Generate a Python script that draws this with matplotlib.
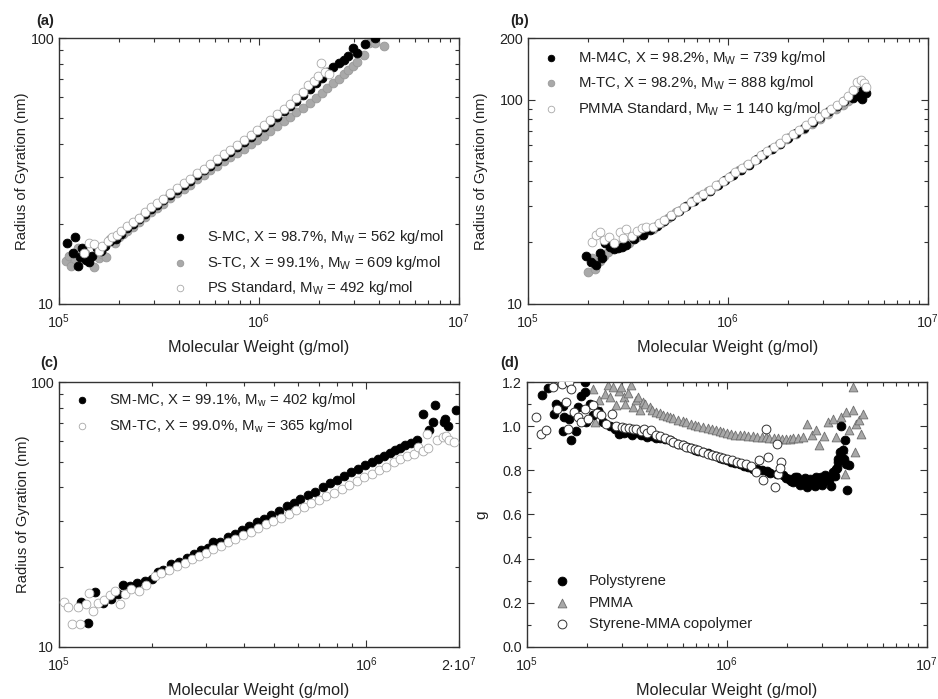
import matplotlib
matplotlib.use("Agg")
import matplotlib.pyplot as plt
from matplotlib.ticker import LogLocator, NullFormatter, FixedLocator, MultipleLocator

plt.rcParams["font.family"] = ["Liberation Sans", "DejaVu Sans"]
plt.rcParams["mathtext.fontset"] = "custom"
plt.rcParams["mathtext.rm"] = "Liberation Sans"
plt.rcParams["mathtext.it"] = "Liberation Sans:italic"
plt.rcParams["mathtext.bf"] = "Liberation Sans:bold"
plt.rcParams["text.color"] = "#222222"
plt.rcParams["axes.labelcolor"] = "#222222"

# ---- panel (a): styrene samples ----
a_smc_mw = [1.10e5, 1.17e5, 1.20e5, 1.24e5, 1.28e5, 1.31e5, 1.36e5, 1.41e5, 1.47e5, 1.55e5,
            1.62e5, 1.70e5, 1.80e5, 1.92e5, 2.05e5,
            2.2e5, 2.35e5, 2.5e5, 2.7e5, 2.9e5, 3.1e5, 3.3e5, 3.6e5, 3.9e5, 4.2e5, 4.5e5,
            4.9e5, 5.3e5, 5.7e5, 6.2e5, 6.7e5, 7.2e5, 7.8e5, 8.4e5, 9.1e5, 9.8e5,
            1.06e6, 1.14e6, 1.23e6, 1.33e6, 1.43e6, 1.54e6, 1.66e6, 1.79e6, 1.92e6, 2.06e6,
            2.2e6, 2.35e6, 2.5e6, 2.65e6, 2.8e6, 2.95e6, 3.1e6, 3.4e6, 3.8e6]
a_smc_rg = [16.9, 15.5, 17.8, 13.9, 15.0, 16.2, 14.6, 14.4, 15.2, 16.2,
            15.8, 16.5, 17.2, 17.6, 18.3,
            19.3, 20.0, 20.8, 21.8, 22.7, 23.6, 24.5, 25.7, 26.9, 28.0, 29.1,
            30.5, 31.8, 33.1, 34.6, 36.0, 37.4, 39.0, 40.6, 42.4, 44.2,
            46.2, 48.3, 50.6, 53.0, 55.5, 58.2, 61.0, 64.2, 67.5, 71.0,
            74.5, 78.0, 80.5, 83.0, 85.5, 92.0, 88.0, 95.0, 100.0]
a_stc_mw = [1.08e5, 1.12e5, 1.15e5, 1.20e5, 1.25e5, 1.30e5, 1.35e5, 1.42e5, 1.50e5, 1.58e5,
            1.65e5, 1.72e5, 1.80e5, 1.90e5, 2.00e5, 2.1e5,
            2.2e5, 2.35e5, 2.5e5, 2.7e5, 2.9e5, 3.1e5, 3.3e5, 3.6e5, 3.9e5, 4.2e5, 4.5e5,
            4.9e5, 5.3e5, 5.7e5, 6.2e5, 6.7e5, 7.2e5, 7.8e5, 8.4e5, 9.1e5, 9.8e5,
            1.06e6, 1.14e6, 1.23e6, 1.33e6, 1.43e6, 1.54e6, 1.66e6, 1.79e6, 1.92e6, 2.06e6,
            2.2e6, 2.35e6, 2.5e6, 2.65e6, 2.8e6, 2.95e6, 3.1e6,
            3.35e6, 3.55e6, 3.8e6, 4.2e6]
a_stc_rg = [14.5, 15.2, 13.9, 14.8, 16.3, 14.8, 15.5, 14.8, 13.8, 14.9,
            15.4, 15.0, 17.5, 17.0, 17.8, 18.3,
            18.8, 19.5, 20.3, 21.2, 22.1, 23.0, 23.8, 25.0, 26.1, 27.1, 28.1,
            29.4, 30.6, 31.8, 33.1, 34.4, 35.6, 37.0, 38.4, 39.9, 41.4,
            43.0, 44.7, 46.6, 48.6, 50.5, 52.6, 54.8, 57.2, 59.6, 62.2,
            64.8, 67.5, 70.3, 73.0, 75.8, 78.5, 81.0,
            86.0, 95.5, 95.7, 93.0]
a_ps_mw = [1.33e5, 1.42e5, 1.50e5, 1.58e5, 1.65e5, 1.75e5, 1.85e5, 1.95e5,
           2.05e5, 2.2e5, 2.35e5, 2.5e5, 2.7e5, 2.9e5, 3.1e5, 3.3e5, 3.6e5, 3.9e5, 4.2e5,
           4.5e5, 4.9e5, 5.3e5, 5.7e5, 6.2e5, 6.7e5, 7.2e5, 7.8e5, 8.4e5, 9.1e5, 9.8e5,
           1.06e6, 1.14e6, 1.23e6, 1.33e6, 1.43e6, 1.54e6, 1.66e6, 1.76e6, 1.88e6, 1.98e6,
           2.05e6, 2.15e6, 2.25e6]
a_ps_rg = [15.5, 17.0, 16.8, 15.8, 16.5, 17.2, 17.8, 18.2,
           18.8, 19.6, 20.3, 21.1, 22.1, 23.1, 24.0, 24.9, 26.2, 27.4, 28.5,
           29.6, 31.0, 32.3, 33.6, 35.1, 36.6, 38.0, 39.7, 41.3, 43.2, 45.0,
           47.0, 49.2, 51.6, 54.2, 56.6, 59.5, 62.5, 66.5, 69.0, 72.0,
           80.5, 74.5, 73.0]

# ---- panel (b): MMA samples ----
b_m4c_mw = [1.94e5, 2.07e5, 2.2e5, 2.28e5, 2.35e5, 2.42e5, 2.56e5, 2.7e5, 2.82e5, 2.95e5,
            3.1e5, 3.4e5, 3.76e5, 4.06e5,
            4.4e5, 4.8e5, 5.2e5, 5.7e5, 6.2e5, 6.8e5, 7.4e5, 8.1e5, 8.9e5, 9.7e5,
            1.06e6, 1.16e6, 1.27e6, 1.39e6, 1.52e6, 1.66e6, 1.82e6, 2.0e6, 2.2e6, 2.4e6,
            2.65e6, 2.9e6, 3.2e6, 3.5e6, 3.8e6,
            4.2e6, 4.5e6, 4.7e6, 4.9e6, 4.75e6]
b_m4c_rg = [17.1, 16.1, 15.5, 17.7, 16.8, 19.8, 19.1, 18.5, 18.7, 18.9,
            19.5, 20.8, 21.8, 22.9,
            24.1, 25.5, 26.9, 28.6, 30.1, 32.0, 33.8, 35.8, 38.1, 40.3,
            42.7, 45.3, 48.1, 51.0, 54.0, 57.2, 60.7, 64.5, 68.6, 72.6,
            77.4, 82.1, 87.5, 92.9, 98.0,
            101.6, 104.0, 100.5, 107.6, 112.0]
b_mtc_mw = [2.0e5, 2.1e5, 2.17e5, 2.3e5, 2.4e5, 2.5e5, 2.65e5, 2.8e5, 3.0e5, 3.2e5, 3.5e5, 3.8e5,
            4.2e5, 4.6e5, 5.0e5, 5.5e5, 6.0e5, 6.6e5, 7.2e5, 7.9e5, 8.7e5, 9.5e5,
            1.04e6, 1.14e6, 1.25e6, 1.37e6, 1.5e6, 1.65e6, 1.8e6, 1.98e6, 2.18e6, 2.4e6,
            2.62e6, 2.88e6, 3.15e6, 3.45e6, 3.75e6, 4.0e6, 4.45e6, 4.6e6]
b_mtc_rg = [14.3, 16.8, 14.8, 16.2, 17.2, 18.0, 18.8, 19.5, 19.2, 19.9, 21.3, 22.3,
            23.4, 24.9, 26.4, 28.2, 29.8, 31.8, 33.6, 35.6, 37.9, 40.0,
            42.3, 45.0, 47.8, 50.8, 53.8, 57.3, 60.5, 64.0, 68.0, 72.0,
            75.9, 80.5, 85.0, 90.0, 94.0, 98.0, 109.0, 104.0]
b_std_mw = [2.1e5, 2.2e5, 2.3e5, 2.4e5, 2.55e5, 2.7e5, 2.9e5, 3.0e5, 3.1e5, 3.3e5, 3.5e5, 3.7e5, 3.9e5,
            4.2e5, 4.5e5, 4.8e5, 5.2e5, 5.6e5, 6.0e5, 6.5e5, 7.0e5, 7.5e5, 8.1e5, 8.7e5, 9.4e5,
            1.01e6, 1.09e6, 1.17e6, 1.26e6, 1.36e6, 1.46e6, 1.57e6, 1.69e6, 1.82e6, 1.96e6,
            2.11e6, 2.27e6, 2.45e6, 2.64e6, 2.84e6, 3.05e6, 3.28e6, 3.5e6, 3.75e6, 4.0e6,
            4.2e6, 4.4e6, 4.6e6, 4.8e6, 4.9e6]
b_std_rg = [20.0, 21.8, 22.5, 20.5, 21.2, 19.8, 22.6, 21.0, 23.2, 21.5, 22.8, 23.5, 23.8,
            23.9, 24.8, 25.9, 27.3, 28.6, 29.9, 31.6, 33.0, 34.6, 36.3, 38.1, 40.1,
            42.0, 44.1, 46.1, 48.4, 50.9, 53.3, 56.0, 58.6, 61.5, 64.6,
            67.8, 71.1, 74.7, 78.3, 82.2, 86.1, 90.4, 94.2, 98.4, 104.0,
            112.0, 122.0, 125.0, 120.0, 115.0]

# ---- panel (c): styrene-MMA copolymers ----
c_mc_mw = [1.18e5, 1.24e5, 1.31e5, 1.39e5, 1.48e5, 1.56e5, 1.62e5, 1.70e5, 1.80e5, 1.90e5,
           2.01e5, 2.1e5, 2.18e5, 2.32e5,
           2.45e5, 2.6e5, 2.75e5, 2.9e5, 3.05e5, 3.18e5, 3.35e5, 3.55e5, 3.75e5, 3.95e5,
           4.15e5, 4.4e5, 4.65e5, 4.9e5, 5.2e5, 5.5e5, 5.8e5, 6.1e5, 6.45e5, 6.8e5,
           7.2e5, 7.6e5, 8.0e5, 8.45e5, 8.9e5, 9.4e5, 9.9e5,
           1.04e6, 1.09e6, 1.14e6, 1.19e6, 1.24e6, 1.29e6, 1.34e6, 1.40e6, 1.46e6,
           1.53e6, 1.60e6, 1.65e6, 1.67e6, 1.79e6, 1.80e6, 1.84e6, 1.96e6]
c_mc_rg = [14.8, 12.3, 16.1, 14.6, 15.2, 15.8, 17.2, 17.0, 17.4, 17.8,
           18.0, 19.2, 19.6, 20.6,
           21.0, 21.7, 22.5, 23.2, 23.7, 24.8, 25.0, 25.9, 26.7, 27.6,
           28.5, 29.5, 30.5, 31.5, 32.7, 33.9, 35.0, 36.1, 37.3, 38.6,
           40.0, 41.4, 42.8, 44.2, 45.6, 47.1, 48.5,
           49.8, 51.1, 52.5, 53.8, 55.2, 56.4, 57.7, 59.1, 60.3,
           76.0, 66.0, 70.6, 81.7, 70.6, 72.6, 68.5, 78.6]
c_tc_mw = [1.04e5, 1.07e5, 1.10e5, 1.15e5, 1.17e5, 1.22e5, 1.25e5, 1.29e5, 1.34e5, 1.40e5,
           1.47e5, 1.52e5, 1.58e5, 1.64e5, 1.72e5, 1.82e5, 1.92e5, 2.05e5,
           2.15e5, 2.28e5, 2.42e5, 2.56e5, 2.7e5, 2.85e5, 3.0e5, 3.18e5, 3.36e5, 3.55e5,
           3.75e5, 3.96e5, 4.2e5, 4.45e5, 4.7e5, 4.98e5, 5.27e5, 5.58e5, 5.9e5, 6.25e5,
           6.6e5, 7.0e5, 7.4e5, 7.85e5, 8.3e5, 8.8e5, 9.3e5, 9.85e5,
           1.04e6, 1.1e6, 1.16e6, 1.23e6, 1.29e6, 1.36e6, 1.43e6, 1.47e6, 1.53e6, 1.58e6,
           1.59e6, 1.70e6, 1.78e6, 1.82e6, 1.86e6, 1.92e6]
c_tc_rg = [14.8, 14.2, 12.2, 14.2, 12.2, 14.5, 16.0, 13.7, 14.6, 15.0,
           15.7, 16.3, 14.5, 15.8, 16.5, 16.2, 17.1, 18.6,
           19.0, 19.6, 20.2, 20.8, 21.4, 22.0, 22.7, 23.4, 24.1, 24.8,
           25.6, 26.4, 27.2, 28.1, 29.0, 29.9, 30.8, 31.8, 32.8, 33.8,
           34.8, 35.9, 37.0, 38.2, 39.5, 40.9, 42.3, 43.8,
           45.0, 46.4, 47.8, 49.9, 51.2, 52.6, 53.4, 56.9, 55.0, 63.5,
           56.3, 60.3, 61.9, 62.5, 60.3, 59.5]

# ---- panel (d): contraction factor g ----
d_ps_mw = [1.19e5, 1.27e5, 1.37e5, 1.40e5, 1.51e5, 1.54e5, 1.52e5, 1.63e5, 1.66e5, 1.76e5,
           1.80e5, 1.87e5, 1.96e5, 1.94e5, 1.98e5, 2.07e5, 2.14e5, 2.26e5, 2.4e5,
           2.6e5, 2.75e5, 2.9e5, 3.05e5, 3.2e5, 3.35e5, 3.5e5, 3.7e5, 3.85e5, 4.0e5, 4.2e5,
           4.4e5, 4.6e5, 4.9e5, 5.17e5, 5.4e5, 5.7e5, 6.0e5, 6.3e5, 6.6e5, 6.9e5, 7.2e5,
           7.6e5, 8.0e5, 8.4e5, 8.8e5, 9.2e5, 9.6e5, 1.0e6, 1.05e6, 1.1e6, 1.16e6, 1.22e6,
           1.28e6, 1.35e6, 1.42e6, 1.5e6, 1.58e6, 1.65e6, 1.77e6, 1.9e6,
           1.98e6, 2.05e6, 2.1e6, 2.15e6, 2.2e6, 2.25e6, 2.32e6, 2.39e6, 2.45e6, 2.5e6,
           2.55e6, 2.6e6, 2.7e6, 2.75e6, 2.79e6, 2.85e6, 2.9e6, 2.95e6, 3.0e6, 3.05e6,
           3.1e6, 3.15e6, 3.25e6, 3.3e6, 3.38e6, 3.45e6, 3.5e6, 3.55e6, 3.58e6, 3.6e6,
           3.66e6, 3.7e6, 3.73e6, 3.8e6, 3.85e6, 3.89e6, 3.96e6, 4.0e6, 4.1e6]
d_ps_g = [1.143, 1.173, 1.057, 1.10, 1.09, 1.04, 0.98, 1.034, 0.936, 0.978,
          1.087, 1.135, 1.20, 1.155, 1.019, 1.10, 1.049, 1.07, 1.02,
          1.00, 0.985, 0.966, 0.97, 0.975, 0.96, 0.974, 0.958, 0.962, 0.95, 0.955,
          0.945, 0.948, 0.94, 0.936, 0.93, 0.92, 0.913, 0.905, 0.90, 0.893, 0.888,
          0.883, 0.877, 0.87, 0.864, 0.858, 0.852, 0.845, 0.84, 0.835, 0.828, 0.82,
          0.815, 0.808, 0.805, 0.80, 0.795, 0.79, 0.785, 0.778,
          0.765, 0.762, 0.75, 0.745, 0.77, 0.768, 0.735, 0.747, 0.765, 0.725,
          0.745, 0.76, 0.74, 0.73, 0.77, 0.76, 0.75, 0.77, 0.732, 0.75,
          0.78, 0.765, 0.755, 0.73, 0.792, 0.775, 0.808, 0.81, 0.853, 0.84,
          0.883, 0.86, 1.0, 0.89, 0.85, 0.936, 0.83, 0.712, 0.823]
d_pmma_mw = [2.15e5, 2.18e5, 2.3e5, 2.35e5, 2.45e5, 2.54e5, 2.6e5, 2.69e5, 2.8e5, 2.9e5,
             2.96e5, 3.05e5, 3.1e5, 3.2e5, 3.32e5, 3.39e5, 3.5e5, 3.59e5, 3.66e5, 3.8e5,
             3.9e5, 4.1e5, 4.2e5,
             4.43e5, 4.6e5, 4.8e5, 5.0e5, 5.17e5, 5.4e5, 5.7e5, 6.0e5, 6.26e5, 6.6e5, 6.9e5,
             7.2e5, 7.6e5, 8.0e5, 8.4e5, 8.8e5, 9.2e5, 9.6e5, 1.0e6, 1.05e6, 1.1e6, 1.16e6,
             1.22e6, 1.28e6, 1.35e6, 1.42e6, 1.5e6, 1.56e6, 1.63e6, 1.72e6, 1.8e6, 1.89e6,
             1.98e6, 2.06e6, 2.15e6, 2.27e6, 2.39e6,
             2.5e6, 2.65e6, 2.79e6, 2.9e6, 3.05e6, 3.2e6, 3.38e6, 3.5e6, 3.7e6, 3.8e6,
             3.9e6, 3.96e6, 4.1e6, 4.27e6, 4.27e6, 4.35e6, 4.4e6, 4.6e6, 4.7e6, 4.8e6]
d_pmma_g = [1.17, 1.02, 1.12, 1.07, 1.147, 1.185, 1.13, 1.177, 1.094, 1.16,
            1.177, 1.13, 1.10, 1.15, 1.185, 1.087, 1.12, 1.132, 1.072, 1.109,
            1.10, 1.087, 1.075,
            1.064, 1.058, 1.052, 1.046, 1.042, 1.036, 1.03, 1.024, 1.019, 1.012, 1.007,
            1.002, 0.996, 0.99, 0.985, 0.981, 0.977, 0.973, 0.969, 0.965, 0.962, 0.96,
            0.958, 0.956, 0.954, 0.952, 0.951, 0.949, 0.948, 0.947, 0.946, 0.944,
            0.943, 0.944, 0.945, 0.948, 0.951,
            1.011, 0.96, 0.981, 0.913, 0.955, 1.019, 1.034, 0.95, 1.042, 0.898,
            0.785, 1.064, 0.981, 1.177, 1.072, 0.883, 1.011, 1.026, 0.966, 1.057]
d_co_mw = [1.11e5, 1.17e5, 1.24e5, 1.35e5, 1.41e5, 1.48e5, 1.50e5, 1.57e5, 1.63e5, 1.66e5,
           1.60e5, 1.71e5, 1.80e5, 1.87e5, 1.94e5, 2.03e5, 2.15e5, 2.25e5, 2.35e5, 2.49e5,
           2.67e5, 2.8e5,
           3.0e5, 3.1e5, 3.25e5, 3.4e5, 3.52e5, 3.7e5, 3.85e5, 4.0e5, 4.18e5, 4.4e5, 4.6e5,
           4.9e5, 5.17e5, 5.4e5, 5.7e5, 6.0e5, 6.26e5, 6.6e5, 6.9e5, 7.2e5, 7.6e5, 8.0e5,
           8.4e5, 8.8e5, 9.2e5, 9.6e5, 1.0e6, 1.06e6, 1.12e6, 1.18e6, 1.25e6,
           1.32e6, 1.4e6, 1.45e6, 1.51e6, 1.6e6, 1.57e6, 1.73e6, 1.77e6, 1.87e6, 1.8e6, 1.84e6]
d_co_g = [1.042, 0.966, 0.984, 1.177, 1.079, 1.2, 1.19, 1.109, 1.2, 1.17,
          0.989, 1.064, 1.042, 1.02, 1.079, 1.034, 1.094, 1.06, 1.049, 1.011,
          1.057, 1.0,
          0.995, 0.99, 0.99, 0.985, 0.989, 0.978, 0.985, 0.97, 0.981, 0.96, 0.955,
          0.945, 0.936, 0.93, 0.92, 0.915, 0.906, 0.90, 0.895, 0.89, 0.883, 0.875,
          0.868, 0.865, 0.86, 0.856, 0.853, 0.847, 0.84, 0.835, 0.830,
          0.82, 0.792, 0.845, 0.755, 0.86, 0.989, 0.725, 0.92, 0.838, 0.785, 0.81]

xlabel = "Molecular Weight (g/mol)"
ylabel = "Radius of Gyration (nm)"

BLACK = dict(marker="o", facecolor="black", edgecolor="black")
GRAY = dict(marker="o", facecolor="#a9a9a9", edgecolor="#999999")
WHITE = dict(marker="o", facecolor="white", edgecolor="#a8a8a8")
MS = 40


def style_axis(ax):
    ax.tick_params(which="both", direction="in", top=True, right=True,
                   labelsize=10.3, colors="#333333", labelcolor="#222222")
    ax.tick_params(which="major", length=5, width=0.8)
    ax.tick_params(which="minor", length=3, width=0.8)
    ax.tick_params(axis="x", which="major", pad=6)
    for s in ax.spines.values():
        s.set_color("#333333")
        s.set_linewidth(1.0)


def log_x(ax, lo, hi):
    ax.set_xscale("log")
    ax.set_xlim(lo, hi)
    ax.xaxis.set_minor_locator(LogLocator(base=10, subs=range(2, 10)))
    ax.xaxis.set_minor_formatter(NullFormatter())


def log_y(ax, lo, hi, majors):
    ax.set_yscale("log")
    ax.set_ylim(lo, hi)
    ax.yaxis.set_major_locator(FixedLocator(majors))
    ax.set_yticklabels([str(m) for m in majors])
    ax.yaxis.set_minor_locator(LogLocator(base=10, subs=range(2, 10)))
    ax.yaxis.set_minor_formatter(NullFormatter())


def legend(ax, loc, anchor, scale=0.75):
    ax.legend(loc=loc, bbox_to_anchor=anchor, frameon=False, fontsize=10.7,
              handlelength=1.0, handletextpad=1.3, labelspacing=0.5,
              borderpad=0, borderaxespad=0, scatterpoints=1, markerscale=scale)


fig = plt.figure(figsize=(9.38, 6.99), dpi=100)
ax_a = fig.add_axes([0.0629, 0.5651, 0.4264, 0.3805])
ax_b = fig.add_axes([0.5629, 0.5651, 0.4264, 0.3805])
ax_c = fig.add_axes([0.0629, 0.0744, 0.4264, 0.3791])
ax_d = fig.add_axes([0.5618, 0.0744, 0.4264, 0.3791])

# (a)
ax_a.scatter(a_smc_mw, a_smc_rg, s=MS, lw=0.6, zorder=3,
             label="S-MC, X = 98.7%, M$_\\mathregular{W}$ = 562 kg/mol", **BLACK)
ax_a.scatter(a_stc_mw, a_stc_rg, s=MS, lw=0.6, zorder=2,
             label="S-TC, X = 99.1%, M$_\\mathregular{W}$ = 609 kg/mol", **GRAY)
ax_a.scatter(a_ps_mw, a_ps_rg, s=MS, lw=0.6, zorder=4,
             label="PS Standard, M$_\\mathregular{W}$ = 492 kg/mol", **WHITE)
log_x(ax_a, 1e5, 1e7)
log_y(ax_a, 10, 100, [10, 100])
legend(ax_a, "upper left", (0.285, 0.285))

# (b)
ax_b.scatter(b_m4c_mw, b_m4c_rg, s=MS, lw=0.6, zorder=3,
             label="M-M4C, X = 98.2%, M$_\\mathregular{W}$ = 739 kg/mol", **BLACK)
ax_b.scatter(b_mtc_mw, b_mtc_rg, s=MS, lw=0.6, zorder=2,
             label="M-TC, X = 98.2%, M$_\\mathregular{W}$ = 888 kg/mol", **GRAY)
ax_b.scatter(b_std_mw, b_std_rg, s=MS, lw=0.6, zorder=4,
             label="PMMA Standard, M$_\\mathregular{W}$ = 1 140 kg/mol", **WHITE)
log_x(ax_b, 1e5, 1e7)
log_y(ax_b, 10, 200, [10, 100, 200])
legend(ax_b, "upper left", (0.04, 0.96))

# (c)
ax_c.scatter(c_mc_mw, c_mc_rg, s=MS, lw=0.6, zorder=3,
             label="SM-MC, X = 99.1%, M$_\\mathregular{w}$ = 402 kg/mol", **BLACK)
ax_c.scatter(c_tc_mw, c_tc_rg, s=MS, lw=0.6, zorder=4,
             label="SM-TC, X = 99.0%, M$_\\mathregular{w}$ = 365 kg/mol", **WHITE)
ax_c.set_xscale("log")
ax_c.set_xlim(1e5, 2e6)
ax_c.xaxis.set_major_locator(FixedLocator([1e5, 1e6, 2e6]))
ax_c.set_xticklabels(["$\\mathregular{10^{5}}$", "$\\mathregular{10^{6}}$",
                      "2·$\\mathregular{10^{7}}$"])
ax_c.xaxis.set_minor_locator(FixedLocator([2e5, 3e5, 4e5, 5e5, 6e5, 7e5, 8e5, 9e5]))
ax_c.xaxis.set_minor_formatter(NullFormatter())
log_y(ax_c, 10, 100, [10, 100])
legend(ax_c, "upper left", (0.04, 0.965))

# (d)
ax_d.scatter(d_ps_mw, d_ps_g, s=MS, lw=0.6, zorder=3, label="Polystyrene",
             marker="o", facecolor="black", edgecolor="black")
ax_d.scatter(d_pmma_mw, d_pmma_g, s=MS, lw=0.6, zorder=2, label="PMMA",
             marker="^", facecolor="#a8a8a8", edgecolor="#6e6e6e")
ax_d.scatter(d_co_mw, d_co_g, s=MS, lw=0.7, zorder=4, label="Styrene-MMA copolymer",
             marker="o", facecolor="white", edgecolor="#333333")
log_x(ax_d, 1e5, 1e7)
ax_d.set_ylim(0, 1.2)
ax_d.yaxis.set_major_locator(MultipleLocator(0.2))
ax_d.yaxis.set_minor_locator(MultipleLocator(0.1))
ax_d.yaxis.set_major_formatter(plt.FormatStrFormatter("%.1f"))
legend(ax_d, "lower left", (0.07, 0.06), scale=1.0)

for ax in (ax_a, ax_b, ax_c, ax_d):
    style_axis(ax)
    ax.set_xlabel(xlabel, fontsize=11.7)
    ax.xaxis.set_label_coords(0.5, -0.135)

ax_a.set_ylabel(ylabel, fontsize=10.6)
ax_b.set_ylabel(ylabel, fontsize=10.6)
ax_c.set_ylabel(ylabel, fontsize=10.6)
ax_d.set_ylabel("g", fontsize=11)
ax_a.yaxis.set_label_coords(-0.075, 0.5)
ax_b.yaxis.set_label_coords(-0.1, 0.5)
ax_c.yaxis.set_label_coords(-0.072, 0.5)
ax_d.yaxis.set_label_coords(-0.0975, 0.5)

for txt, x, y in [("(a)", 36, 21), ("(b)", 510, 21), ("(c)", 40, 363), ("(d)", 500, 363)]:
    fig.text(x / 938, 1 - y / 699, txt, fontsize=10.5, fontweight="bold",
             ha="left", va="center")

fig.savefig("out.png", dpi=100)
